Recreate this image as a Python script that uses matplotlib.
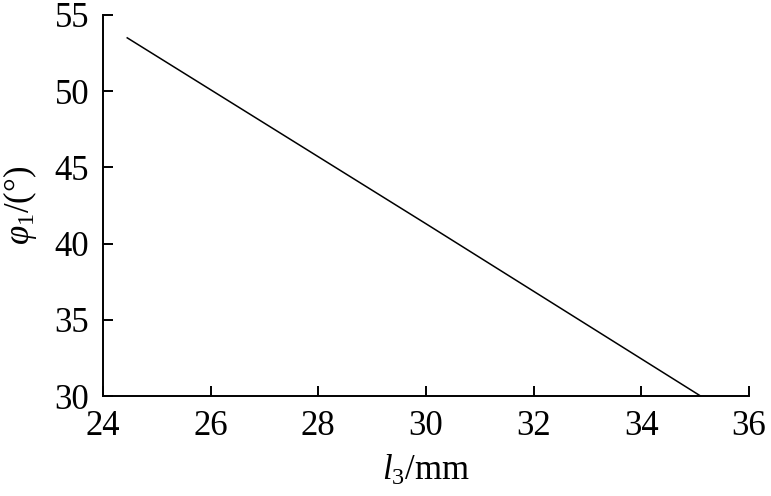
import matplotlib
matplotlib.use("Agg")
import matplotlib.pyplot as plt

l3 = [24.45, 30.0, 35.1]
phi1 = [53.5, 41.3, 30.0]
xticks = [24, 26, 28, 30, 32, 34, 36]
yticks = [30, 35, 40, 45, 50, 55]

plt.rcParams['font.family'] = ['Liberation Serif', 'DejaVu Serif']
plt.rcParams['mathtext.fontset'] = 'custom'
plt.rcParams['mathtext.rm'] = 'Liberation Serif'
plt.rcParams['mathtext.it'] = 'Liberation Serif:italic'

fig = plt.figure(figsize=(7.71, 4.96), dpi=100)
ax = fig.add_axes([0.1336, 0.2016, 0.8379, 0.7682])
ax.plot(l3, phi1, color='black', lw=1.1)
ax.set_xlim(24, 36)
ax.set_ylim(30, 55)
ax.set_xticks(xticks)
ax.set_yticks(yticks)
for s in ['top', 'right']:
    ax.spines[s].set_visible(False)
for s in ['left', 'bottom']:
    ax.spines[s].set_linewidth(1.4)
    ax.spines[s].set_color('black')
ax.tick_params(direction='in', length=7, width=1.4, labelsize=25, color='black', labelcolor='black')
ax.tick_params(axis='y', pad=10)
ax.tick_params(axis='x', pad=10)
ax.set_xlabel(r'$l_3$/mm', fontsize=25, color='black', labelpad=8)
ax.set_ylabel(r'$\varphi_1$/(°)', fontsize=25, color='black', labelpad=11)
fig.savefig('out.png', dpi=100)
